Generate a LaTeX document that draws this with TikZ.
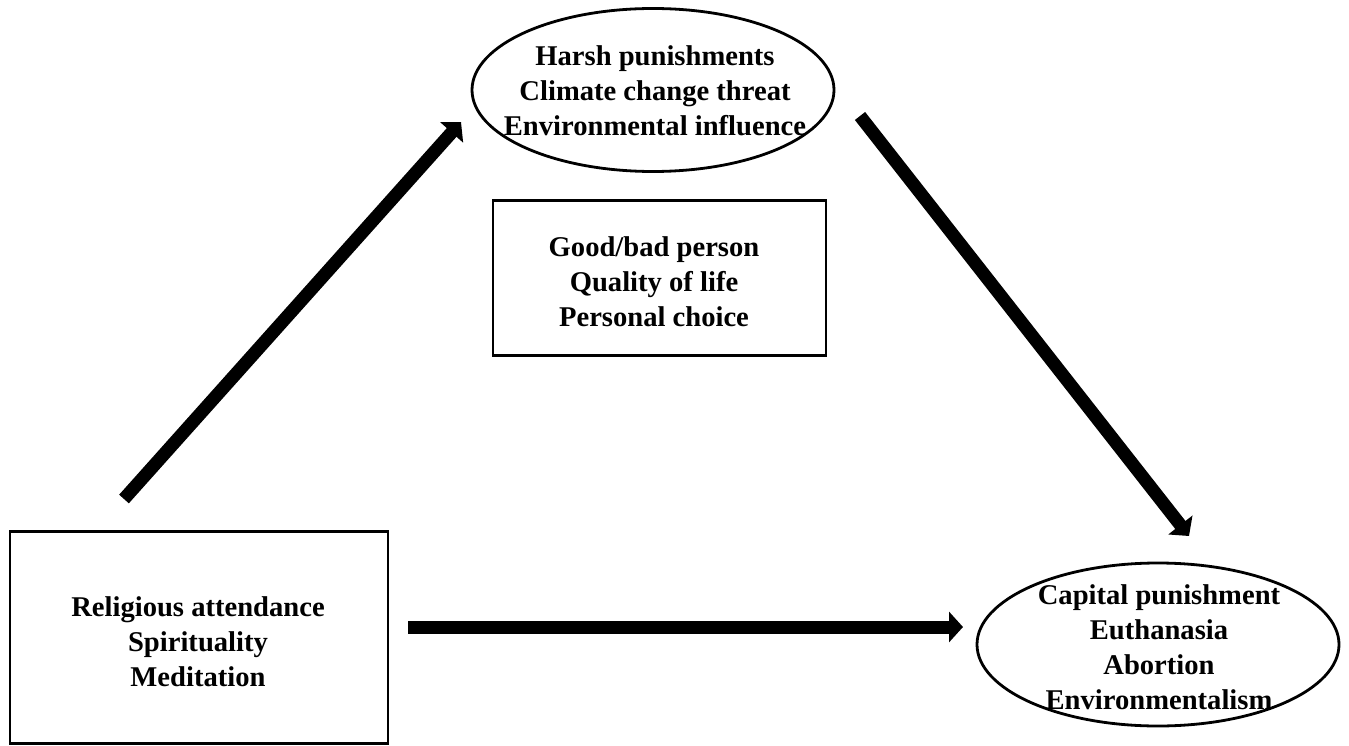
\documentclass[tikz,border=0pt]{standalone}
\usepackage{fontspec}
\setmainfont{Liberation Serif}
\usetikzlibrary{arrows.meta,shapes.geometric}
\begin{document}
\begin{tikzpicture}[x=1pt,y=-1pt,
  lbl/.style={font=\fontsize{28.6}{35}\selectfont\bfseries, align=center, inner sep=0pt},
  boxshape/.style={draw, line width=2.8pt, inner sep=0pt},
  ovalshape/.style={draw, ellipse, line width=2.8pt, inner sep=0pt},
  bigarrow/.style={line width=13pt, -{Triangle[length=14pt,width=30pt]}, shorten >=0pt}
]
\useasboundingbox (0,0) rectangle (1349,746);

% top ellipse
\node[ovalshape, minimum width=362pt, minimum height=163pt] (mediator) at (653,90) {};
\node[lbl] (mediatortext) at (655,91) {Harsh punishments\\Climate change threat\\Environmental influence};

% middle box
\node[boxshape, minimum width=333pt, minimum height=155pt] (middle) at (659.5,278) {};
\node[lbl] (middletext) at (654,282) {Good/bad person\\Quality of life\\Personal choice};

% left box
\node[boxshape, minimum width=378pt, minimum height=212pt] (source) at (199,637.5) {};
\node[lbl] (sourcetext) at (198,642) {Religious attendance\\Spirituality\\Meditation};

% right ellipse
\node[ovalshape, minimum width=362pt, minimum height=163pt] (outcome) at (1158,644.5) {};
\node[lbl] (outcometext) at (1159,647) {Capital punishment\\Euthanasia\\Abortion\\Environmentalism};

% connector end points
\coordinate (a1s) at (124,499);
\coordinate (a1e) at (461,122);
\coordinate (a2s) at (860,116);
\coordinate (a2e) at (1189,536);
\coordinate (a3s) at (408,627);
\coordinate (a3e) at (963,627);

\draw[bigarrow] (a1s) -- (a1e);
\draw[bigarrow] (a2s) -- (a2e);
\draw[bigarrow] (a3s) -- (a3e);
\end{tikzpicture}
\end{document}
